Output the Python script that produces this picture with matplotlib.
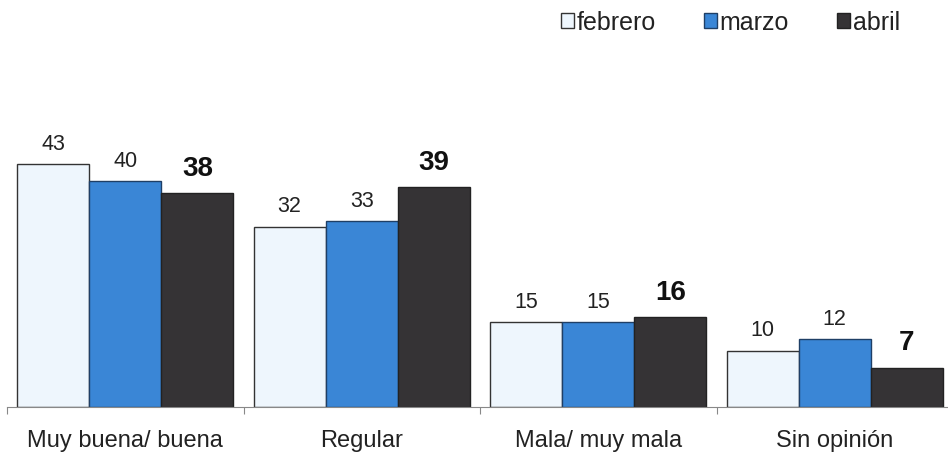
import numpy as np
import matplotlib.pyplot as plt

categorias = ["Muy buena/ buena", "Regular", "Mala/ muy mala", "Sin opinión"]
febrero = [43, 32, 15, 10]
marzo = [40, 33, 15, 12]
abril = [38, 39, 16, 7]

plt.rcParams['font.family'] = ['Liberation Sans', 'DejaVu Sans']

fig = plt.figure(figsize=(9.48, 4.6), dpi=100)
# one category is about 237 px wide; the axis runs a little past the right edge
ax = fig.add_axes([7 / 948, 52 / 460, 946 / 948, 282 / 460])

x = np.arange(len(categorias))
w = 0.305

b1 = ax.bar(x - w, febrero, w, color='#eef6fd', edgecolor='#333333', linewidth=1.0, label='febrero')
b2 = ax.bar(x, marzo, w, color='#3a86d6', edgecolor='#1f3f66', linewidth=1.0, label='marzo')
b3 = ax.bar(x + w, abril, w, color='#353335', edgecolor='#222222', linewidth=1.0, label='abril')

for bars, vals in ((b1, febrero), (b2, marzo)):
    for b, v in zip(bars, vals):
        ax.annotate(str(v), (b.get_x() + b.get_width() / 2, v), xytext=(0, 11),
                    textcoords='offset points', ha='center', va='baseline',
                    fontsize=15.5, color='#222222')
for b, v in zip(b3, abril):
    ax.annotate(str(v), (b.get_x() + b.get_width() / 2, v), xytext=(0, 13),
                textcoords='offset points', ha='center', va='baseline',
                fontsize=20, fontweight='bold', color='#111111')

ax.set_xlim(-0.5, 3.5)
ax.set_ylim(0, 50)
ax.set_yticks([])
ax.set_xticks(np.arange(-0.5, 4.0, 1.0), minor=False)
ax.set_xticklabels([])
ax.set_xticks(x, minor=True)
ax.set_xticklabels(categorias, minor=True, fontsize=17, color='#222222')
ax.tick_params(axis='x', which='major', length=5, color='#888888', direction='out')
ax.tick_params(axis='x', which='minor', length=0, pad=16)

for s in ('top', 'right', 'left'):
    ax.spines[s].set_visible(False)
ax.spines['bottom'].set_color('#888888')

leg = fig.legend(loc='upper right', bbox_to_anchor=(900 / 948, 1 - 11 / 460), ncol=3, frameon=False,
                 fontsize=18, handlelength=0.55, handleheight=0.55, handletextpad=0.1,
                 columnspacing=1.9, borderpad=0, borderaxespad=0)
for t in leg.get_texts():
    t.set_color('#222222')

fig.savefig('out.png', dpi=100, facecolor='white')
